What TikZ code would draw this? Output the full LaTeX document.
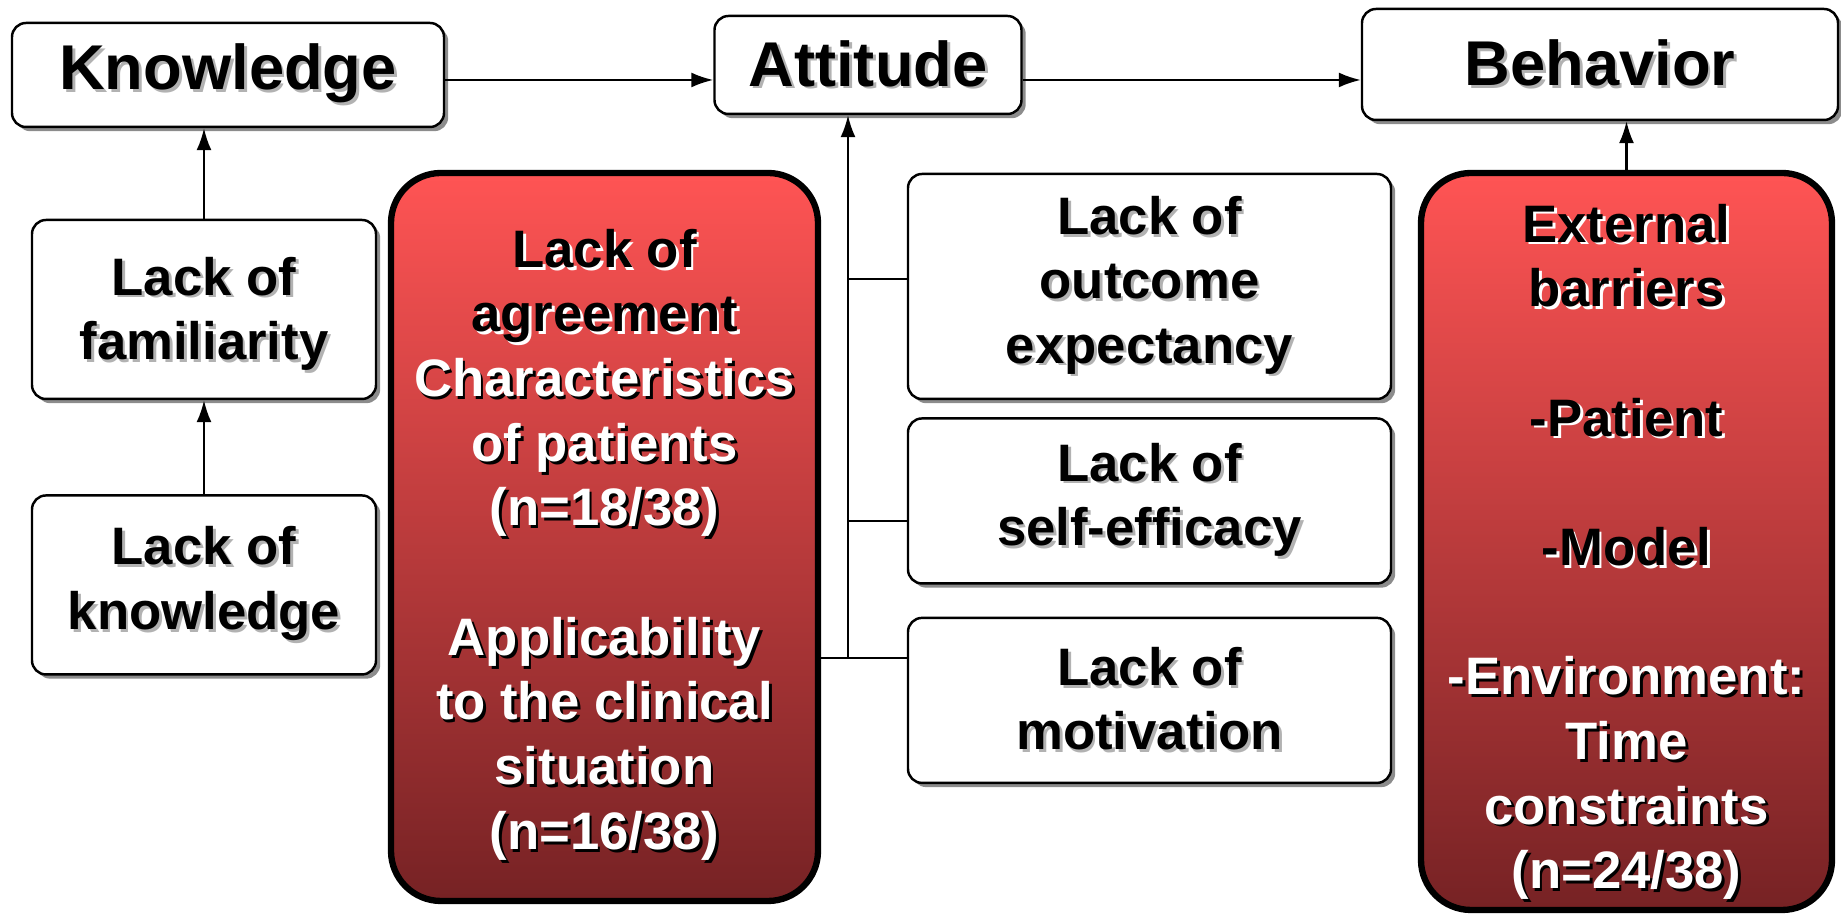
\documentclass[tikz,border=0pt]{standalone}
\usepackage{fontspec}
\setmainfont{Liberation Sans}
\usepackage{tikz}
\usetikzlibrary{shadows}
\usetikzlibrary{arrows.meta}
\usetikzlibrary{positioning}

\definecolor{redtop}{RGB}{255,84,84}
\definecolor{redbot}{RGB}{118,34,36}

% text with a small shadow below right
\newcommand{\shd}[3]{\leavevmode\rlap{\hspace{0.8pt}\raisebox{-0.8pt}{\textcolor{#2}{#3}}}\textcolor{#1}{#3}}
\newcommand{\gsh}[1]{\shd{black}{black!30}{#1}}
\newcommand{\wsh}[1]{\shd{black}{white}{#1}}
\newcommand{\bsh}[1]{\shd{white}{black}{#1}}

\begin{document}
\begin{tikzpicture}
    [
    box/.style={rectangle,draw,fill=white,rounded corners=1.4mm,line width=0.7pt,inner sep=0pt,
      drop shadow={shadow xshift=1.2pt,shadow yshift=-1.2pt,fill=black!45,opacity=1}},
    stage/.style={box,font=\bfseries\fontsize{18}{21}\selectfont},
    cause/.style={box,align=center,font=\bfseries\fontsize{15}{18.3}\selectfont},
    redbox/.style={rectangle,draw,rounded corners=5mm,line width=1.8pt,inner sep=0pt,
      top color=redtop,bottom color=redbot,align=center,font=\bfseries\fontsize{15}{18.4}\selectfont},
    link/.style={line width=0.6pt},
    arr/.style={link,-{Latex[length=2.2mm,width=1.5mm]}},
    ]
    \useasboundingbox (0,0) rectangle (18.41,9.16);

    % stages
    \node (know) at (2.28,8.41) [stage,minimum width=4.32cm,minimum height=1.04cm] {\gsh{Knowledge}};
    \node (att) at (8.68,8.51) [stage,minimum width=3.07cm,minimum height=0.98cm] {\gsh{Attitude}};
    \node (beh) at (16.00,8.515) [stage,minimum width=4.76cm,minimum height=1.11cm] {\gsh{Behavior}};

    % knowledge barriers
    \node (fam) at (2.04,6.065) [cause,minimum width=3.44cm,minimum height=1.79cm] {\rule{0pt}{14pt}\gsh{Lack of}\\\gsh{familiarity}};
    \node (lkn) [cause,minimum width=3.44cm,minimum height=1.79cm,below=0.94cm of fam] {\gsh{Lack of}\\\gsh{knowledge}};

    % attitude barriers
    \node (agree) at (6.045,3.79) [redbox,minimum width=4.27cm,minimum height=7.28cm]
      {\rule{0pt}{16pt}\wsh{Lack of}\\\wsh{agreement}\\\bsh{Characteristics}\\\bsh{of patients}\\\bsh{(n=18/38)}\\[18.4pt]
       \bsh{Applicability}\\\bsh{to the clinical}\\\bsh{situation}\\\bsh{(n=16/38)}};
    \node (outc) at (11.495,6.295) [cause,minimum width=4.83cm,minimum height=2.25cm] {\gsh{Lack of}\\\gsh{outcome}\\\gsh{expectancy}};
    \node (self) [cause,minimum width=4.83cm,minimum height=1.65cm,below=0.17cm of outc] {\gsh{Lack of}\\\gsh{self-efficacy}};
    \node (motiv) [cause,minimum width=4.83cm,minimum height=1.65cm,below=0.32cm of self] {\gsh{Lack of}\\\gsh{motivation}};

    % behavior barriers
    \node (ext) at (16.265,3.745) [redbox,minimum width=4.11cm,minimum height=7.37cm]
      {\rule{0pt}{17.5pt}\wsh{External}\\\wsh{barriers}\\[18.4pt]\wsh{-Patient}\\[18.4pt]\wsh{-Model}\\[18.4pt]
       \bsh{-Environment:}\\\bsh{Time}\\\bsh{constraints}\\\bsh{(n=24/38)}};

    \coordinate (j0) at (8.48,8.36);
    \coordinate (j1) at (8.48,6.37);
    \coordinate (j2) at (8.48,3.95);
    \coordinate (j3) at (8.48,2.58);

    \draw [arr] (know.east |- j0) to (att.west |- j0);
    \draw [arr] (att.east |- j0) to (beh.west |- j0);
    \draw [arr] (fam.north) to (know.south -| fam.north);
    \draw [arr] (lkn.north) to (fam.south);
    \draw [arr] (ext.north) to (beh.south -| ext.north);

    \draw [link] (agree.east |- j3) to (motiv.west |- j3);
    \draw [link] (j1) to (outc.west |- j1);
    \draw [link] (j2) to (self.west |- j2);
    \draw [arr] (j3) to (att.south -| j3);
  \end{tikzpicture}
\end{document}
